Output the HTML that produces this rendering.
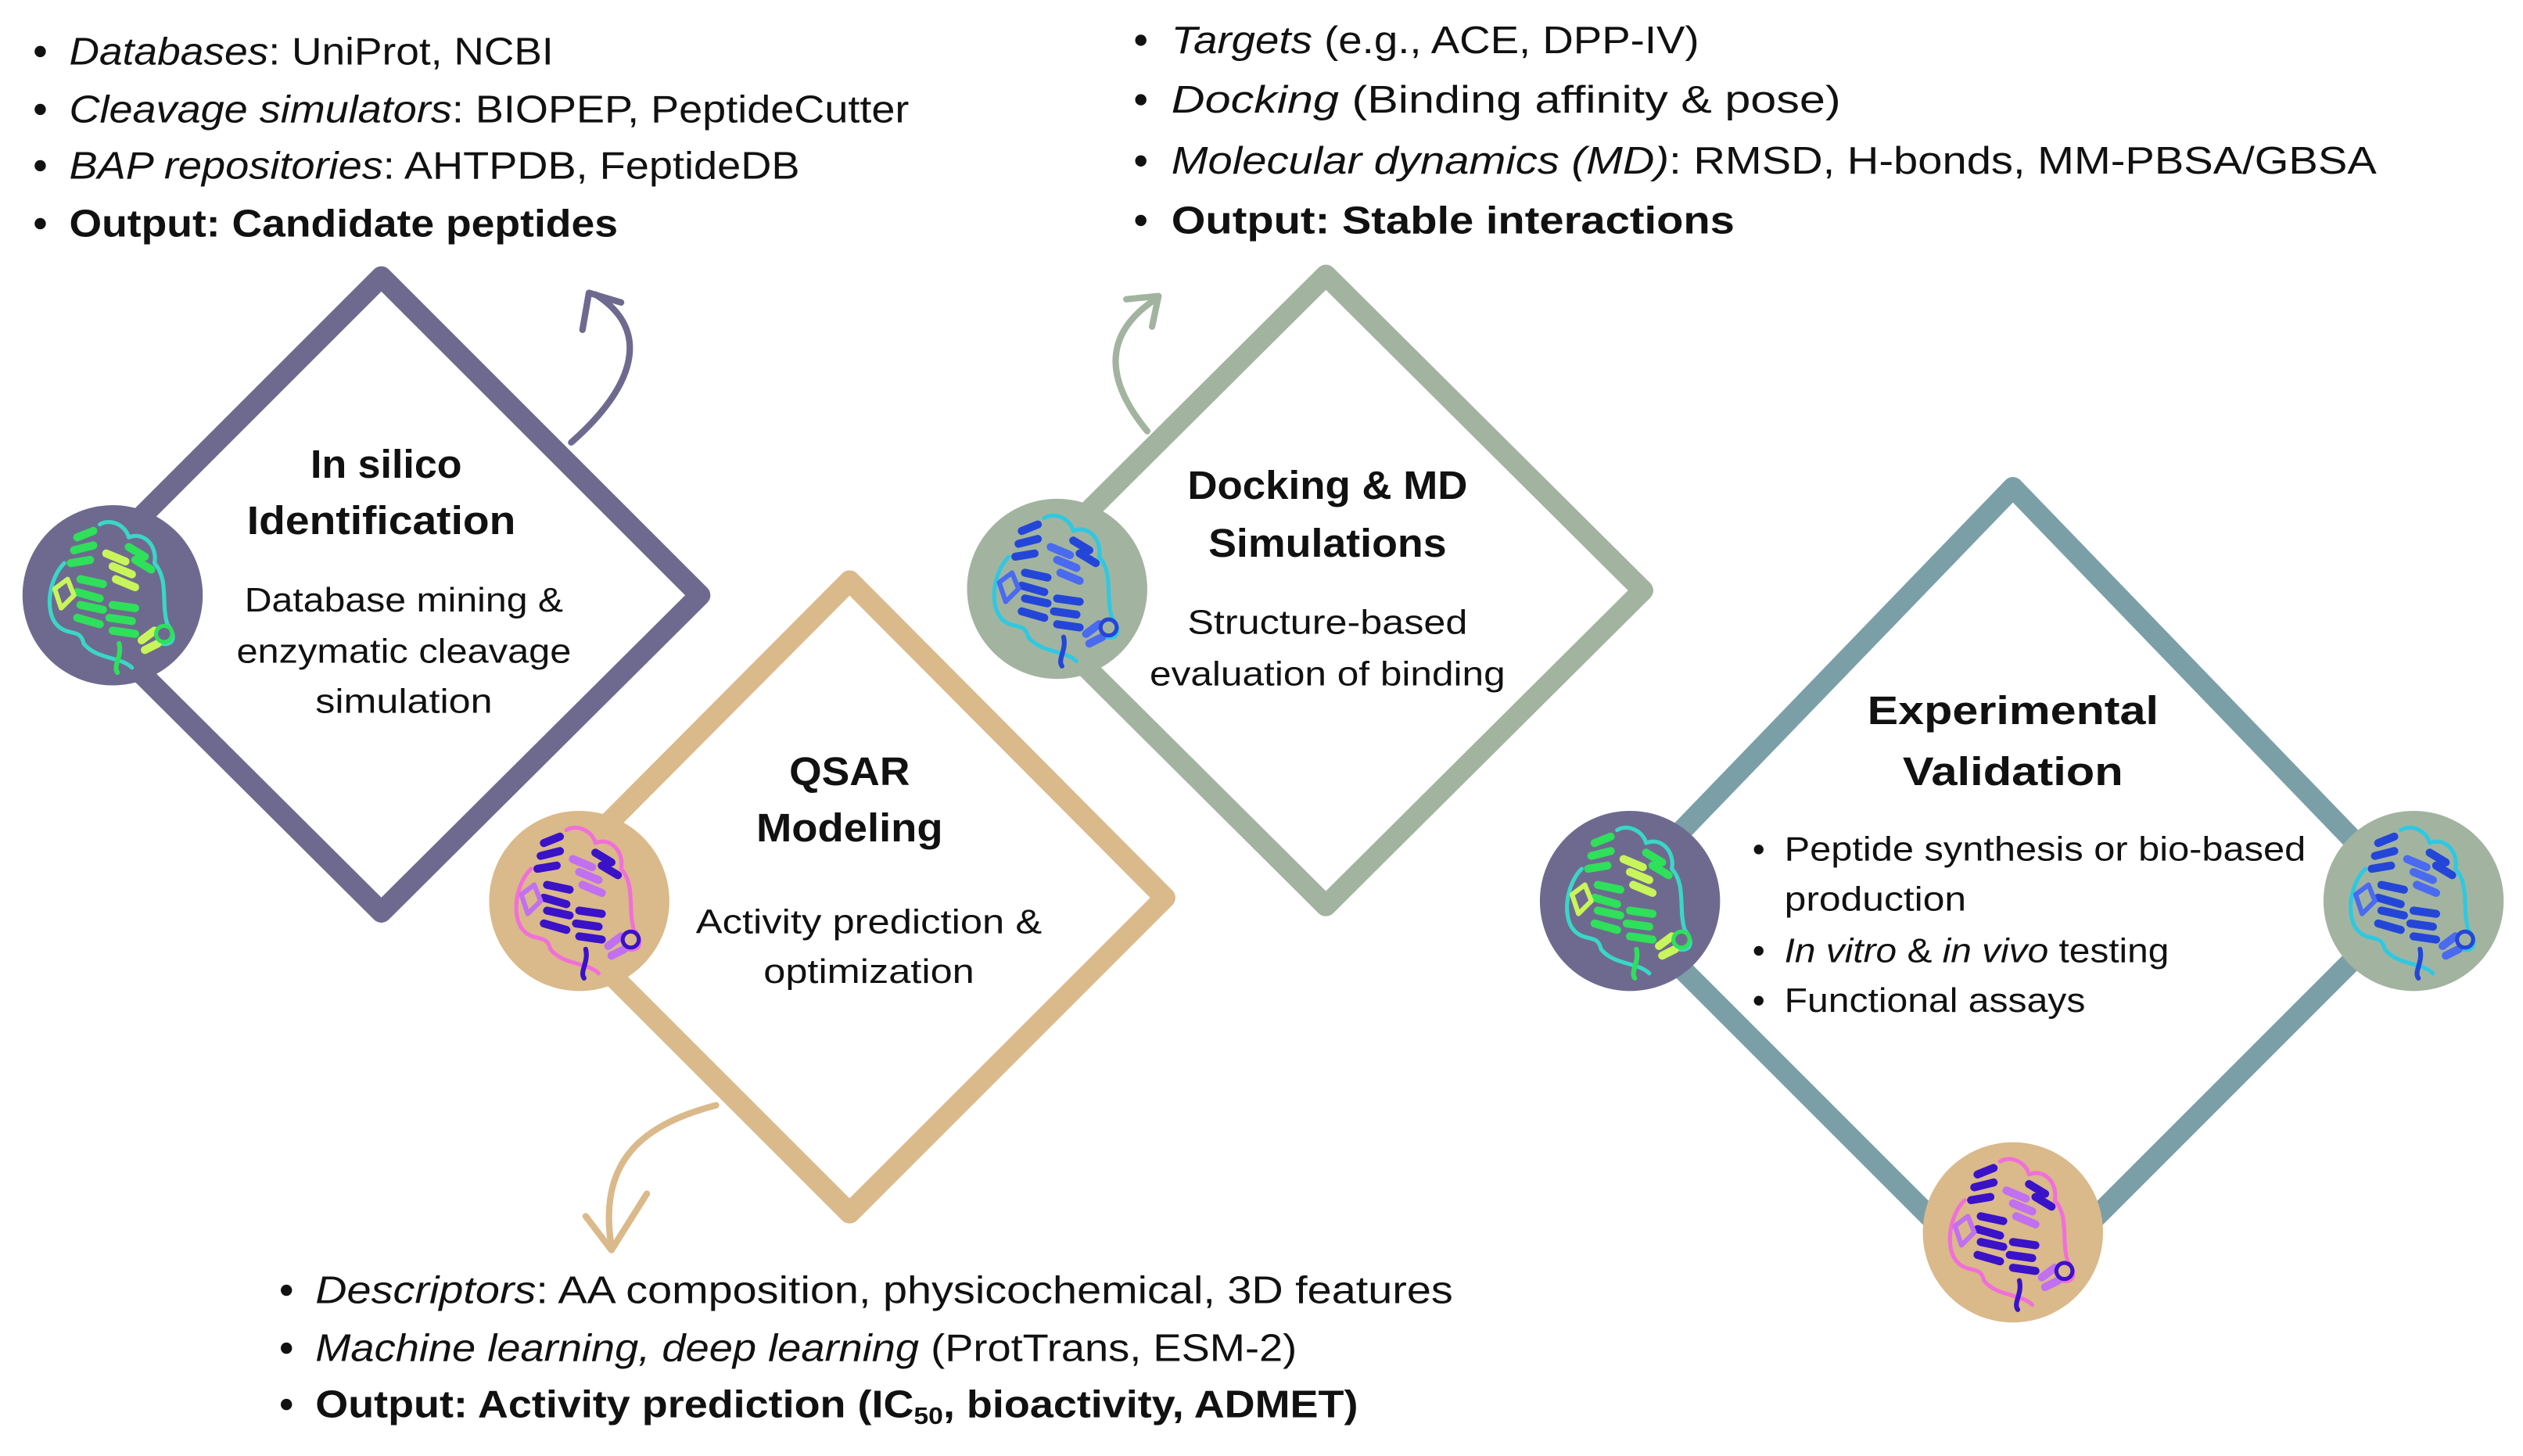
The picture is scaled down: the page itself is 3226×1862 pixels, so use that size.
<!DOCTYPE html>
<html><head><meta charset="utf-8"><style>
html,body{margin:0;padding:0;background:#fff;}
svg{display:block;}
text{font-family:"Liberation Sans",sans-serif;fill:#111;}
.b{font-size:24px;}
.t{font-size:25px;font-weight:bold;}
.s{font-size:21px;}
</style></head><body>
<svg width="3226" height="1862" viewBox="0 0 1568 905" xmlns="http://www.w3.org/2000/svg">
<defs>
<g id="prot" fill="none" stroke-linecap="round" stroke-linejoin="round">
  <path d="M-30,-20 C-40,-10 -42,10 -35,18 C-28,26 -20,20 -18,30 C-10,40 5,38 12,45" style="stroke:var(--c2)" stroke-width="2.5"/>
  <path d="M-8,-44 C-2,-48 8,-44 10,-36 C20,-40 28,-30 26,-20 C35,-10 30,5 34,18 C40,25 38,32 30,30" style="stroke:var(--c2)" stroke-width="2.5"/>
  <path d="M-22,-36 l10,-4 M-24,-28 l12,-3 M-26,-20 l12,-2" style="stroke:var(--c1)" stroke-width="5"/>
  <path d="M-20,-10 l14,3 M-22,-2 l14,4 M-20,6 l14,3 M-22,14 l14,4" style="stroke:var(--c1)" stroke-width="5"/>
  <path d="M-4,-26 l12,5 M0,-18 l12,5 M2,-10 l12,5" style="stroke:var(--c3)" stroke-width="5"/>
  <path d="M0,6 l14,2 M-2,14 l14,2 M0,22 l14,2" style="stroke:var(--c1)" stroke-width="5"/>
  <path d="M10,-30 l10,6 M14,-22 l10,6" style="stroke:var(--c1)" stroke-width="5"/>
  <path d="M-36,-4 l8,-6 l4,10 l-8,8z" style="stroke:var(--c3)" stroke-width="3"/>
  <path d="M18,28 l8,-6 M20,34 l8,-4" style="stroke:var(--c3)" stroke-width="5"/>
  <circle cx="32" cy="24" r="5" style="stroke:var(--c1)" stroke-width="2.5"/>
  <path d="M4,30 C6,38 0,44 3,48" style="stroke:var(--c1)" stroke-width="3"/>
</g>
</defs>

<!-- Top-left text -->
<g class="b">
<circle cx="25" cy="32" r="3.5" fill="#111"/><text x="43" y="40" textLength="301" lengthAdjust="spacingAndGlyphs"><tspan font-style="italic">Databases</tspan>: UniProt, NCBI</text>
<circle cx="25" cy="68" r="3.5" fill="#111"/><text x="43" y="76" textLength="522" lengthAdjust="spacingAndGlyphs"><tspan font-style="italic">Cleavage simulators</tspan>: BIOPEP, PeptideCutter</text>
<circle cx="25" cy="103" r="3.5" fill="#111"/><text x="43" y="111" textLength="454" lengthAdjust="spacingAndGlyphs"><tspan font-style="italic">BAP repositories</tspan>: AHTPDB, FeptideDB</text>
<circle cx="25" cy="139" r="3.5" fill="#111"/><text x="43" y="147" font-weight="bold" textLength="341" lengthAdjust="spacingAndGlyphs">Output: Candidate peptides</text>
</g>

<!-- Top-right text -->
<g class="b">
<circle cx="709" cy="25" r="3.5" fill="#111"/><text x="728" y="33" textLength="328" lengthAdjust="spacingAndGlyphs"><tspan font-style="italic">Targets</tspan> (e.g., ACE, DPP-IV)</text>
<circle cx="709" cy="62" r="3.5" fill="#111"/><text x="728" y="70" textLength="416" lengthAdjust="spacingAndGlyphs"><tspan font-style="italic">Docking</tspan>  (Binding affinity &amp; pose)</text>
<circle cx="709" cy="100" r="3.5" fill="#111"/><text x="728" y="108" textLength="749" lengthAdjust="spacingAndGlyphs"><tspan font-style="italic">Molecular dynamics (MD)</tspan>: RMSD, H-bonds, MM-PBSA/GBSA</text>
<circle cx="709" cy="137" r="3.5" fill="#111"/><text x="728" y="145" font-weight="bold" textLength="350" lengthAdjust="spacingAndGlyphs">Output: Stable interactions</text>
</g>

<!-- Bottom text -->
<g class="b">
<circle cx="178" cy="802" r="3.5" fill="#111"/><text x="196" y="810" textLength="707" lengthAdjust="spacingAndGlyphs"><tspan font-style="italic">Descriptors</tspan>: AA composition, physicochemical, 3D features</text>
<circle cx="178" cy="838" r="3.5" fill="#111"/><text x="196" y="846" textLength="610" lengthAdjust="spacingAndGlyphs"><tspan font-style="italic">Machine learning, deep learning</tspan> (ProtTrans, ESM-2)</text>
<circle cx="178" cy="873" r="3.5" fill="#111"/><text x="196" y="881" font-weight="bold" textLength="648" lengthAdjust="spacingAndGlyphs">Output: Activity prediction (IC<tspan font-size="15" dy="4">50</tspan><tspan dy="-4">, bioactivity, ADMET)</tspan></text>
</g>

<!-- Diamond 1 purple -->
<path d="M237,172 L435,370 L237,567 L39,370 Z" fill="none" stroke="#6e6a8f" stroke-width="13" stroke-linejoin="round"/>
<path d="M355,275 C395,240 405,205 370,183" fill="none" stroke="#6e6a8f" stroke-width="4" stroke-linecap="round"/>
<path d="M362,205 L366,182 L386,188" fill="none" stroke="#6e6a8f" stroke-width="4" stroke-linecap="round" stroke-linejoin="round"/>

<!-- Diamond 3 sage -->
<path d="M824,171 L1021,367 L824,563 L627,367 Z" fill="none" stroke="#a2b4a0" stroke-width="13" stroke-linejoin="round"/>
<path d="M713,268 C690,240 682,210 718,186" fill="none" stroke="#a2b4a0" stroke-width="4" stroke-linecap="round"/>
<path d="M700,186 L720,184 L716,203" fill="none" stroke="#a2b4a0" stroke-width="4" stroke-linecap="round" stroke-linejoin="round"/>

<!-- Diamond 2 tan -->
<path d="M528,361 L724,558 L528,754 L332,558 Z" fill="none" stroke="#dab98b" stroke-width="13" stroke-linejoin="round"/>
<path d="M445,687 C395,700 372,725 380,775" fill="none" stroke="#dab98b" stroke-width="4" stroke-linecap="round"/>
<path d="M364,756 L380,777 L402,742" fill="none" stroke="#dab98b" stroke-width="4" stroke-linecap="round" stroke-linejoin="round"/>

<!-- Diamond 4 teal -->
<path d="M1251,303 L1499,560 L1251,808 L1003,560 Z" fill="none" stroke="#7b9fa7" stroke-width="13" stroke-linejoin="round"/>

<!-- Circles -->
<circle cx="70" cy="370" r="56" fill="#6e6a8f"/>
<use href="#prot" x="70" y="370" style="--c1:#2ee05a;--c2:#3ad6c8;--c3:#c8f55a"/>
<circle cx="360" cy="560" r="56" fill="#dab98b"/>
<use href="#prot" x="360" y="560" style="--c1:#3a12c8;--c2:#f070d8;--c3:#c070f0"/>
<circle cx="657" cy="366" r="56" fill="#a2b4a0"/>
<use href="#prot" x="657" y="366" style="--c1:#2446d8;--c2:#30c8e0;--c3:#4a6af0"/>
<circle cx="1013" cy="560" r="56" fill="#6e6a8f"/>
<use href="#prot" x="1013" y="560" style="--c1:#2ee05a;--c2:#3ad6c8;--c3:#c8f55a"/>
<circle cx="1500" cy="560" r="56" fill="#a2b4a0"/>
<use href="#prot" x="1500" y="560" style="--c1:#2446d8;--c2:#30c8e0;--c3:#4a6af0"/>
<circle cx="1251" cy="766" r="56" fill="#dab98b"/>
<use href="#prot" x="1251" y="766" style="--c1:#3a12c8;--c2:#f070d8;--c3:#c070f0"/>

<!-- Node texts -->
<g text-anchor="middle">
<text class="t" x="240" y="297" textLength="94" lengthAdjust="spacingAndGlyphs">In silico</text>
<text class="t" x="237" y="332" textLength="167" lengthAdjust="spacingAndGlyphs">Identification</text>
<text class="s" x="251" y="380" textLength="198" lengthAdjust="spacingAndGlyphs">Database mining &amp;</text>
<text class="s" x="251" y="412" textLength="208" lengthAdjust="spacingAndGlyphs">enzymatic cleavage</text>
<text class="s" x="251" y="443" textLength="110" lengthAdjust="spacingAndGlyphs">simulation</text>

<text class="t" x="528" y="488" textLength="75" lengthAdjust="spacingAndGlyphs">QSAR</text>
<text class="t" x="528" y="523" textLength="116" lengthAdjust="spacingAndGlyphs">Modeling</text>
<text class="s" x="540" y="580" textLength="215" lengthAdjust="spacingAndGlyphs">Activity prediction &amp;</text>
<text class="s" x="540" y="611" textLength="131" lengthAdjust="spacingAndGlyphs">optimization</text>

<text class="t" x="825" y="310" textLength="174" lengthAdjust="spacingAndGlyphs">Docking &amp; MD</text>
<text class="t" x="825" y="346" textLength="148" lengthAdjust="spacingAndGlyphs">Simulations</text>
<text class="s" x="825" y="394" textLength="174" lengthAdjust="spacingAndGlyphs">Structure-based</text>
<text class="s" x="825" y="426" textLength="221" lengthAdjust="spacingAndGlyphs">evaluation of binding</text>

<text class="t" x="1251" y="450" font-size="28" textLength="181" lengthAdjust="spacingAndGlyphs">Experimental</text>
<text class="t" x="1251" y="488" font-size="28" textLength="137" lengthAdjust="spacingAndGlyphs">Validation</text>
</g>
<g class="s">
<circle cx="1093" cy="528" r="3" fill="#111"/><text x="1109" y="535" textLength="324" lengthAdjust="spacingAndGlyphs">Peptide synthesis or bio-based</text>
<text x="1109" y="566" textLength="113" lengthAdjust="spacingAndGlyphs">production</text>
<circle cx="1093" cy="591" r="3" fill="#111"/><text x="1109" y="598" textLength="239" lengthAdjust="spacingAndGlyphs"><tspan font-style="italic">In vitro</tspan> &amp; <tspan font-style="italic">in vivo</tspan> testing</text>
<circle cx="1093" cy="622" r="3" fill="#111"/><text x="1109" y="629" textLength="187" lengthAdjust="spacingAndGlyphs">Functional assays</text>
</g>
</svg>
</body></html>
